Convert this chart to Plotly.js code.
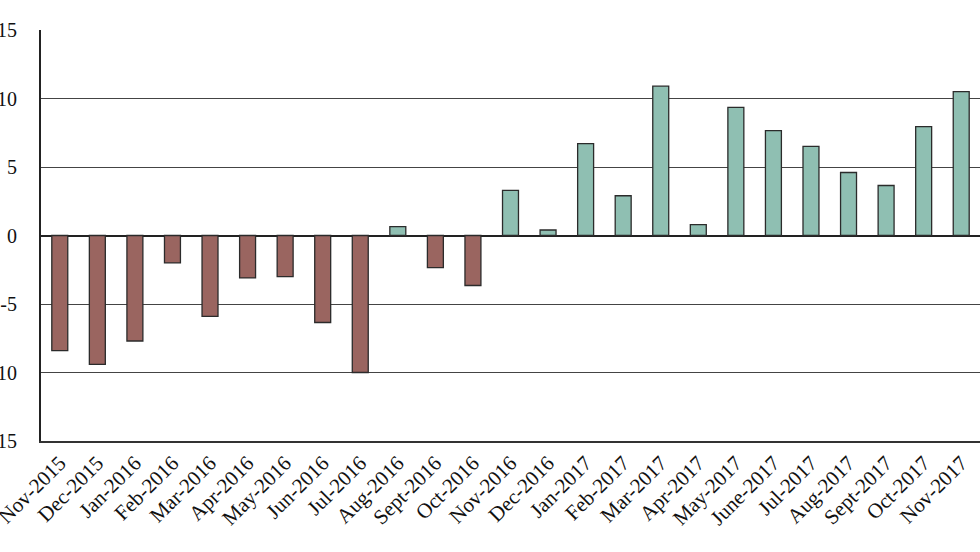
<!DOCTYPE html>
<html>
<head>
<meta charset="utf-8">
<script src="https://cdn.plot.ly/plotly-3.0.1.min.js"></script>
<style>html,body{margin:0;padding:0;background:#fff;overflow:hidden}#chart{width:980px;height:552px}</style>
</head>
<body>
<div id="chart"></div>
<script>
const months = ["Nov-2015","Dec-2015","Jan-2016","Feb-2016","Mar-2016","Apr-2016","May-2016","Jun-2016","Jul-2016","Aug-2016","Sept-2016","Oct-2016","Nov-2016","Dec-2016","Jan-2017","Feb-2017","Mar-2017","Apr-2017","May-2017","June-2017","Jul-2017","Aug-2017","Sept-2017","Oct-2017","Nov-2017"];
const values = [-8.4,-9.4,-7.7,-2.0,-5.9,-3.1,-3.0,-6.35,-10.0,0.65,-2.35,-3.65,3.3,0.4,6.7,2.9,10.9,0.8,9.35,7.65,6.5,4.6,3.65,7.95,10.5];
const yTicks = [-15,-10,-5,0,5,10,15];

const negColor = "#9a6560";
const posColor = "#8fbfb2";
const barColors = values.map(v => v < 0 ? negColor : posColor);

const data = [{
  type: "bar",
  x: months,
  y: values,
  marker: {color: barColors, line: {color: "#2b2b2b", width: 1.3}},
  hoverinfo: "x+y"
}];

const layout = {
  width: 980, height: 552,
  margin: {l: 41, r: 0, t: 30, b: 111},
  paper_bgcolor: "#fff", plot_bgcolor: "#fff",
  showlegend: false,
  bargap: 0.575,
  font: {family: "Liberation Serif, Times New Roman, serif", color: "#111", size: 20},
  xaxis: {
    type: "category",
    tickangle: -45,
    showgrid: false,
    showline: true, linecolor: "#333", linewidth: 1.5,
    ticks: "", tickfont: {size: 21, family: "Liberation Serif, serif", color: "#111"},
    automargin: false
  },
  yaxis: {
    range: [-15, 15],
    tickvals: yTicks,
    ticktext: yTicks.map(String),
    showgrid: true, gridcolor: "#444", gridwidth: 1,
    zeroline: true, zerolinecolor: "#222", zerolinewidth: 2,
    showline: true, linecolor: "#222", linewidth: 2,
    ticks: "", ticklabelstandoff: 18,
    tickfont: {size: 20, family: "Liberation Serif, serif", color: "#111"},
    automargin: false
  }
};

Plotly.newPlot("chart", data, layout, {displayModeBar: false, staticPlot: true});
</script>
</body>
</html>
